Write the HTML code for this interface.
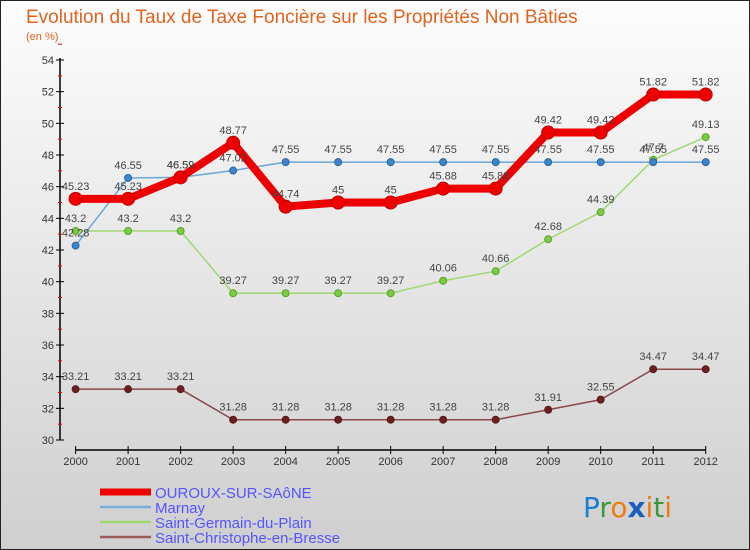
<!DOCTYPE html>
<html><head><meta charset="utf-8"><style>
body{margin:0}
#c{position:relative;width:750px;height:550px;overflow:hidden;font-family:"Liberation Sans",sans-serif}
</style></head><body>
<div id="c">
<svg id="s" width="750" height="550" xmlns="http://www.w3.org/2000/svg">
<defs><linearGradient id="bg" x1="0" y1="0" x2="0" y2="1"><stop offset="0" stop-color="#fdfdfd"/><stop offset="1" stop-color="#cfcfcf"/></linearGradient></defs>
<rect x="0.5" y="0.5" width="749" height="549" fill="url(#bg)" stroke="#222"/>
<text x="26" y="23" font-size="19" fill="#e0631e">Evolution du Taux de Taxe Foncière sur les Propriétés Non Bâties</text>
<text x="26" y="40" font-size="11" fill="#e0631e">(en %)</text>
<g id="axes"></g><g id="series"></g><g id="labels"></g>
<g>
<line x1="100" y1="492" x2="151" y2="492" stroke="#ee0000" stroke-width="7"/>
<text x="155" y="498" font-size="15" fill="#5555ff">OUROUX-SUR-SAôNE</text>
<line x1="100" y1="507" x2="151" y2="507" stroke="#7aaed8" stroke-width="2.5"/>
<text x="155" y="513" font-size="15" fill="#5555ff">Marnay</text>
<line x1="100" y1="522" x2="151" y2="522" stroke="#9ed870" stroke-width="2.5"/>
<text x="155" y="528" font-size="15" fill="#5555ff">Saint-Germain-du-Plain</text>
<line x1="100" y1="537" x2="151" y2="537" stroke="#9a5a5a" stroke-width="2.5"/>
<text x="155" y="543" font-size="15" fill="#5555ff">Saint-Christophe-en-Bresse</text>
</g>
<g font-size="28" font-family="DejaVu Sans, sans-serif">
<text x="583" y="517"><tspan fill="#1a7fd0">P</tspan><tspan fill="#3a9a3a">r</tspan><tspan fill="#f07a10">o</tspan><tspan fill="#1a5fc0" font-weight="bold">x</tspan><tspan fill="#f07a10">i</tspan><tspan fill="#3a9a3a">t</tspan><tspan fill="#f07a10">i</tspan></text>
</g>
</svg>
</div>
<script>
const years=[2000,2001,2002,2003,2004,2005,2006,2007,2008,2009,2010,2011,2012];
const ouroux=[45.23,45.23,46.59,48.77,44.74,45,45,45.88,45.88,49.42,49.42,51.82,51.82];
const marnay=[42.28,46.55,46.59,47.02,47.55,47.55,47.55,47.55,47.55,47.55,47.55,47.55,47.55];
const germain=[43.2,43.2,43.2,39.27,39.27,39.27,39.27,40.06,40.66,42.68,44.39,47.7,49.13];
const christophe=[33.21,33.21,33.21,31.28,31.28,31.28,31.28,31.28,31.28,31.91,32.55,34.47,34.47];
const yTicks=[30,32,34,36,38,40,42,44,46,48,50,52,54];
const NS="http://www.w3.org/2000/svg";
function X(i){return 75.6+i*(705.7-75.6)/(years.length-1);}
function Y(v){return 440-(v-30)*(380/24);}
function mk(p,t,a){const e=document.createElementNS(NS,t);for(const k in a)e.setAttribute(k,a[k]);p.appendChild(e);return e;}
const ax=document.getElementById('axes');
mk(ax,'line',{x1:60,y1:Y(54)-2,x2:60,y2:440,stroke:'#000','stroke-width':1.5});
yTicks.forEach(v=>{
 mk(ax,'line',{x1:56,y1:Y(v),x2:64,y2:Y(v),stroke:'#000'});
 mk(ax,'line',{x1:58,y1:Y(v+1),x2:62,y2:Y(v+1),stroke:'#e00'});
 const t=mk(ax,'text',{x:54,y:Y(v)+4,'font-size':11,fill:'#333','text-anchor':'end'});t.textContent=v;
 
 
});
mk(ax,'line',{x1:75.6,y1:450,x2:705.7,y2:450,stroke:'#000','stroke-width':1.5});
years.forEach((y,i)=>{
 mk(ax,'line',{x1:X(i),y1:446,x2:X(i),y2:454,stroke:'#000'});
 const t=mk(ax,'text',{x:X(i),y:465,'font-size':11,fill:'#333','text-anchor':'middle'});t.textContent=y;
 
 
});
const sg=document.getElementById('series'),lg=document.getElementById('labels');
function draw(data,name,color,w,r,mcol,mstroke){
 const pts=data.map((v,i)=>X(i)+','+Y(v)).join(' ');
 const pl=mk(sg,'polyline',{points:pts,fill:'none',stroke:color,'stroke-width':w});
 
 
 data.forEach((v,i)=>{
  const c=mk(sg,'circle',{cx:X(i),cy:Y(v),r:r,fill:mcol,stroke:mstroke,'stroke-width':1});
  
  
  const t=mk(lg,'text',{x:X(i),y:Y(v)-9,'font-size':11,fill:'#444','text-anchor':'middle'});t.textContent=v;
  
  
 });
}
draw(christophe,'saint-christophe','#8a4848',1.5,3.5,'#6a2020','#5a1a1a');
draw(germain,'saint-germain','#9ed870',1.5,3.5,'#7ccc40','#5aa030');
draw(marnay,'marnay','#6aa6d8',1.5,3.5,'#3a86c8','#2a66a0');
draw(ouroux,'ouroux','#ee0000',8,6.5,'#ee0000','#c00000');
</script>
</body></html>
